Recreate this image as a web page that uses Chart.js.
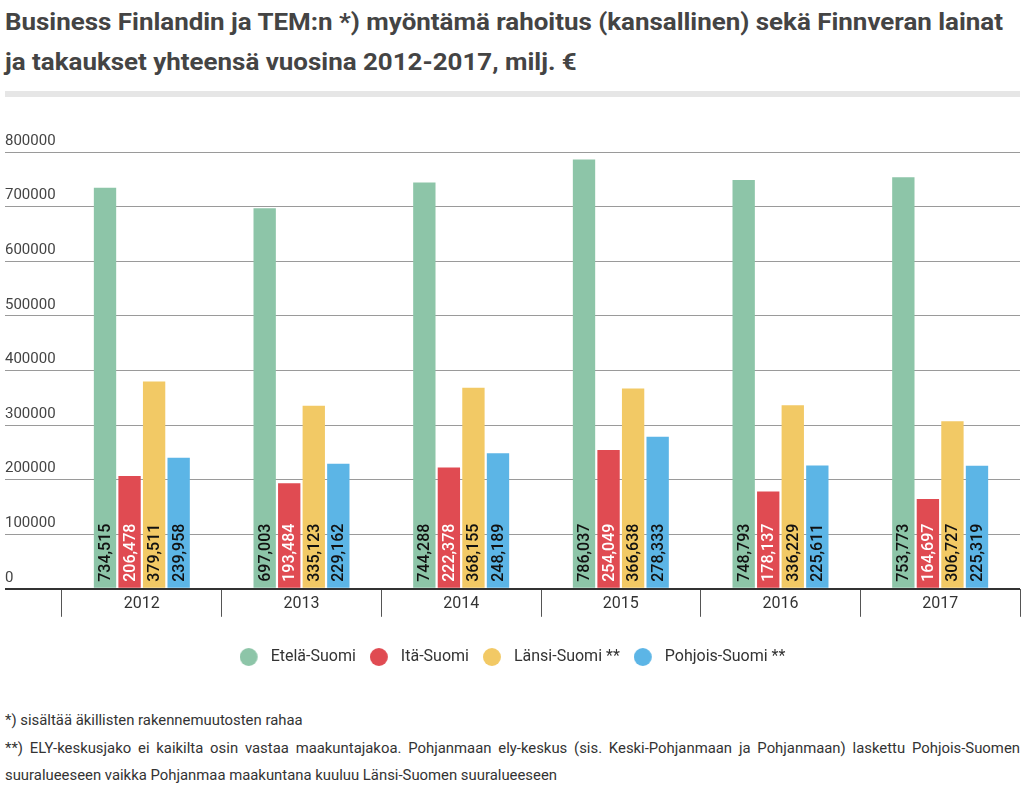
<!DOCTYPE html>
<html>
<head>
<meta charset="utf-8">
<script src="https://cdn.jsdelivr.net/npm/chart.js@4/dist/chart.umd.min.js"></script>
<style>
  html, body { margin: 0; padding: 0; background: #fff; width: 1024px; height: 800px; overflow: hidden; font-family: Roboto, sans-serif; }
  .title { position: absolute; left: 5px; font-weight: 700; font-size: 24px; color: #444; line-height: 40px; white-space: nowrap; transform-origin: 0 50%; }
  #rule { position: absolute; left: 5px; top: 91px; width: 1015px; height: 6px; background: #e6e6e6; }
  .note { position: absolute; left: 5px; font-size: 14px; color: #333; line-height: 20px; white-space: nowrap; transform-origin: 0 50%; }
  #chartWrap { position: absolute; left: 0; top: 100px; width: 1024px; height: 600px; }
</style>
</head>
<body>
<div class="title" id="t1" style="top:2px">Business Finlandin ja TEM:n *) myöntämä rahoitus (kansallinen) sekä Finnveran lainat</div>
<div class="title" id="t2" style="top:42px">ja takaukset yhteensä vuosina 2012-2017, milj. €</div>
<div id="rule"></div>
<div id="chartWrap"><canvas id="c" width="1024" height="600"></canvas></div>
<div class="note" id="n1" style="top:710px">*) sisältää äkillisten rakennemuutosten rahaa</div>
<div class="note" id="n2" style="top:738px; text-align: justify; text-align-last: justify;">**) ELY-keskusjako ei kaikilta osin vastaa maakuntajakoa. Pohjanmaan ely-keskus (sis. Keski-Pohjanmaan ja Pohjanmaan) laskettu Pohjois-Suomen</div>
<div class="note" id="n3" style="top:765px">suuralueeseen vaikka Pohjanmaa maakuntana kuuluu Länsi-Suomen suuralueeseen</div>
<script>
const years = ['2012', '2013', '2014', '2015', '2016', '2017'];
const seriesNames = ['Etelä-Suomi', 'Itä-Suomi', 'Länsi-Suomi **', 'Pohjois-Suomi **'];
const etelaSuomi = [734515, 697003, 744288, 786037, 748793, 753773];
const itaSuomi = [206478, 193484, 222378, 254049, 178137, 164697];
const lansiSuomi = [379511, 335123, 368155, 366638, 336229, 306727];
const pohjoisSuomi = [239958, 229162, 248189, 278333, 225611, 225319];
const yTicks = [0, 100000, 200000, 300000, 400000, 500000, 600000, 700000, 800000];

const colors = ['#8dc5a8', '#e04b52', '#f2c965', '#5cb5e6'];
const labelColors = ['#111', '#fff', '#111', '#111'];

// text fitting (condensed look)
function fitWidth(el, target) {
  el.style.transform = 'none';
  const w = el.getBoundingClientRect().width;
  return target / w;
}
const t1 = document.getElementById('t1'), t2 = document.getElementById('t2');
const ts = fitWidth(t1, 998);
t1.style.transform = 'scaleX(' + ts + ')';
t2.style.transform = 'scaleX(' + ts + ')';
const n1 = document.getElementById('n1'), n2 = document.getElementById('n2'), n3 = document.getElementById('n3');
const ns = fitWidth(n3, 552);
n1.style.transform = 'scaleX(' + ns + ')';
n3.style.transform = 'scaleX(' + ns + ')';
n2.style.whiteSpace = 'normal';
n2.style.width = (1015 / ns) + 'px';
n2.style.height = '20px';
n2.style.overflow = 'hidden';
n2.style.transform = 'scaleX(' + ns + ')';

// legend markers: 18px circle, left part of a 23px-wide box
const MARK_W = 23;
function makeMarker(color) {
  const cv = document.createElement('canvas');
  cv.width = MARK_W; cv.height = 18;
  const g = cv.getContext('2d');
  g.fillStyle = color;
  g.beginPath();
  g.arc(9, 9, 9, 0, Math.PI * 2);
  g.fill();
  return cv;
}
const markers = colors.map(makeMarker);

const valueLabels = {
  id: 'valueLabels',
  afterDatasetsDraw(chart) {
    const ctx = chart.ctx;
    ctx.save();
    ctx.font = '500 16px Roboto, sans-serif';
    chart.data.datasets.forEach((ds, di) => {
      const meta = chart.getDatasetMeta(di);
      if (meta.hidden) return;
      meta.data.forEach((bar, i) => {
        const v = ds.data[i];
        ctx.save();
        ctx.translate(bar.x, bar.base - 6);
        ctx.rotate(-Math.PI / 2);
        ctx.textAlign = 'left';
        ctx.textBaseline = 'middle';
        ctx.fillStyle = labelColors[di];
        ctx.fillText(v.toLocaleString('en-US'), 0, 1);
        ctx.restore();
      });
    });
    ctx.restore();
  }
};

const allSeries = [etelaSuomi, itaSuomi, lansiSuomi, pohjoisSuomi];

new Chart(document.getElementById('c'), {
  type: 'bar',
  data: {
    labels: years,
    datasets: allSeries.map((d, i) => ({
      label: seriesNames[i],
      data: d,
      backgroundColor: colors[i],
      borderWidth: 0,
      pointStyle: markers[i],
      categoryPercentage: 0.615,
      barPercentage: 0.91
    }))
  },
  options: {
    responsive: false,
    animation: false,
    devicePixelRatio: 1,
    layout: { padding: { left: 5, right: 4, top: 52, bottom: 25 } },
    plugins: {
      legend: {
        position: 'bottom',
        labels: {
          usePointStyle: true,
          boxHeight: 16,
          pointStyleWidth: MARK_W,
          padding: 14,
          color: '#333',
          font: { family: 'Roboto', size: 16 },
          generateLabels(chart) {
            return chart.data.datasets.map((ds, i) => ({
              text: ds.label,
              fillStyle: colors[i],
              strokeStyle: colors[i],
              lineWidth: 0,
              pointStyle: markers[i],
              hidden: false,
              datasetIndex: i,
              fontColor: '#333'
            }));
          }
        }
      },
      tooltip: { enabled: false }
    },
    scales: {
      x: {
        offset: true,
        grid: {
          offset: true,
          drawOnChartArea: false,
          drawTicks: true,
          tickLength: 28,
          color: '#555',
          lineWidth: 1
        },
        border: { display: false },
        ticks: {
          padding: -22,
          color: '#333',
          font: { family: 'Roboto', size: 16 }
        },
        afterFit(s) { s.height += 43; }
      },
      y: {
        min: 0,
        max: 800000,
        afterBuildTicks(s) { s.ticks = yTicks.map(v => ({ value: v })); },
        grid: {
          drawTicks: true,
          tickLength: 57,
          color: ctx => (ctx.tick && ctx.tick.value === 0) ? '#333' : '#9a9a9a',
          lineWidth: ctx => (ctx.tick && ctx.tick.value === 0) ? 2 : 1
        },
        border: { display: false },
        ticks: {
          crossAlign: 'far',
          labelOffset: -11,
          padding: 0,
          color: '#444',
          font: { family: 'Roboto', size: 15 },
          callback: v => String(v)
        },
        afterFit(s) { s.width = 57; }
      }
    }
  },
  plugins: [valueLabels]
});
</script>
</body>
</html>
